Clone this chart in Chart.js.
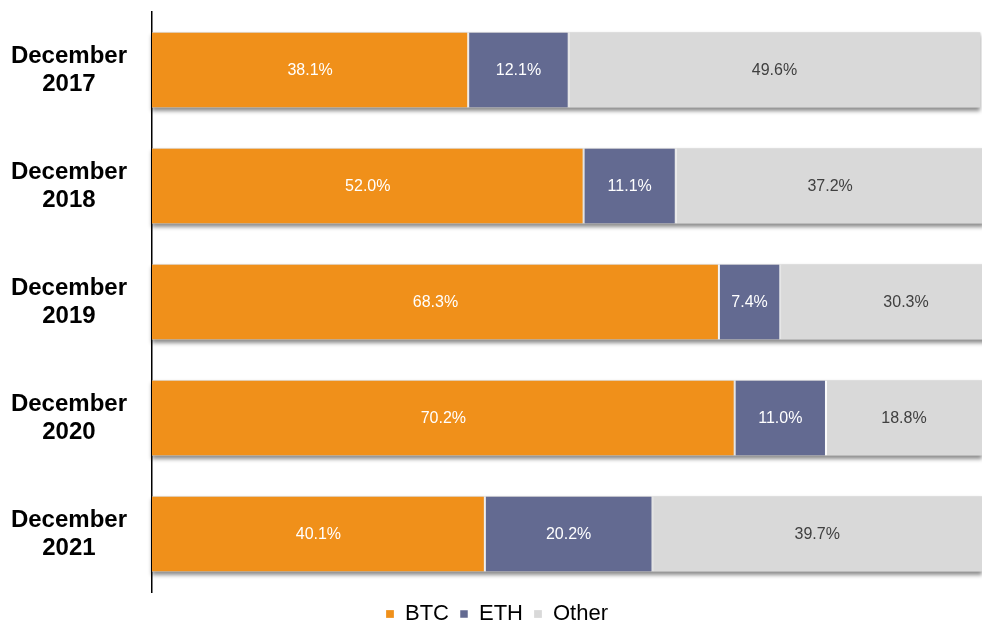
<!DOCTYPE html>
<html><head><meta charset="utf-8">
<script src="https://cdn.jsdelivr.net/npm/chart.js@4"></script>
<style>html,body{margin:0;padding:0;background:#fff}#wrap{width:982px;height:623px}</style>
</head><body><div id="wrap"><canvas id="c"></canvas></div>
<script>
const categories = [["December","2017"],["December","2018"],["December","2019"],["December","2020"],["December","2021"]];
const btc = [38.1, 52.0, 68.3, 70.2, 40.1];
const eth = [12.1, 11.1, 7.4, 11.0, 20.2];
const other = [49.6, 37.2, 30.3, 18.8, 39.7];
const seriesNames = ["BTC","ETH","Other"];
const colors = ["#F0901A","#636A91","#D9D9D9"];
const labelColors = ["#ffffff","#ffffff","#404040"];
const FONT = "'Liberation Sans', Arial, sans-serif";

const shadowPlugin = {
  id:'shadow',
  beforeDatasetsDraw(chart){
    const ctx = chart.ctx, xs = chart.scales.x;
    const meta = chart.getDatasetMeta(0);
    ctx.save();
    ctx.shadowColor = 'rgba(0,0,0,0.45)';
    ctx.shadowBlur = 4;
    ctx.shadowOffsetY = 3;
    ctx.fillStyle = '#ccc';
    meta.data.forEach((el,i)=>{
      const total = chart.data.datasets.reduce((s,d)=>s+d.data[i],0);
      const x0 = xs.getPixelForValue(0), x1 = xs.getPixelForValue(total);
      const h = el.height;
      ctx.fillRect(x0, el.y - h/2, x1-x0, h);
    });
    ctx.restore();
  }
};
const labelPlugin = {
  id:'labels',
  afterDatasetsDraw(chart){
    const ctx = chart.ctx;
    ctx.save();
    ctx.font = "16px " + FONT;
    ctx.textAlign='center'; ctx.textBaseline='middle';
    chart.data.datasets.forEach((ds,di)=>{
      const meta = chart.getDatasetMeta(di);
      ctx.fillStyle = labelColors[di];
      meta.data.forEach((el,i)=>{
        const cx = (el.x + el.base)/2;
        ctx.fillText(ds.data[i].toFixed(1)+'%', cx, el.y+1);
      });
    });
    ctx.restore();
  }
};

new Chart(document.getElementById('c'), {
  type:'bar',
  data:{
    labels: categories,
    datasets:[
      {label:seriesNames[0], data:btc, backgroundColor:colors[0], borderColor:'#fff', borderWidth:{left:0,right:1,top:0,bottom:0}, borderSkipped:false},
      {label:seriesNames[1], data:eth, backgroundColor:colors[1], borderColor:'#fff', borderWidth:{left:1,right:1,top:0,bottom:0}, borderSkipped:false},
      {label:seriesNames[2], data:other, backgroundColor:colors[2], borderColor:'#fff', borderWidth:{left:1,right:0,top:0,bottom:0}, borderSkipped:false}
    ]
  },
  options:{
    indexAxis:'y',
    responsive:true, maintainAspectRatio:false, animation:false,
    barPercentage:0.647, categoryPercentage:1,
    layout:{padding:{top:12,left:12,right:0,bottom:0}},
    scales:{
      x:{stacked:true, display:false, min:0, max:100},
      y:{stacked:true,
         grid:{display:false},
         border:{display:true,color:'#000',width:1.5},
         ticks:{crossAlign:'center', padding:17, color:'#000', font:{family:FONT,size:24,weight:'bold',lineHeight:1.17}},
         afterFit(scale){ scale.width = 140; scale.paddingTop = 0; scale.paddingBottom = 0; }
      }
    },
    plugins:{
      legend:{position:'bottom', maxHeight:31, labels:{boxWidth:8, boxHeight:8, padding:11, color:'#000', font:{family:FONT,size:22,lineHeight:1.36}}},
      tooltip:{enabled:false}
    }
  },
  plugins:[shadowPlugin,labelPlugin]
});
</script></body></html>
